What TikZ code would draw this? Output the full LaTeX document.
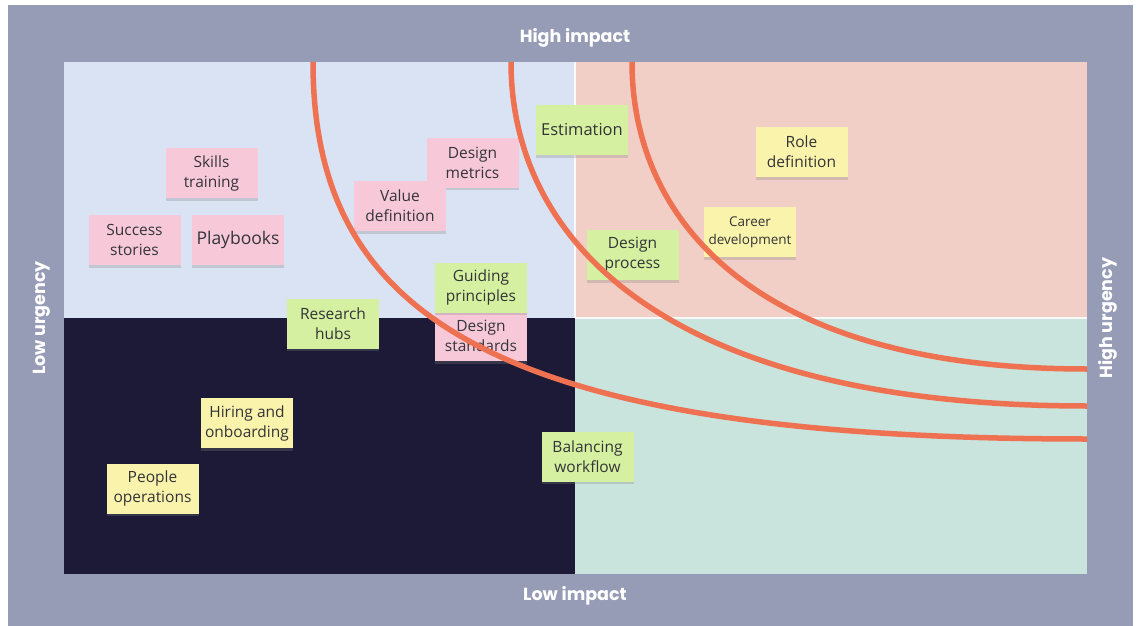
\documentclass[tikz,border=0pt]{standalone}
\usepackage{fontspec}
\setmainfont{Open Sans}
\newfontfamily\axisfont{Poppins}
\usetikzlibrary{shadows}

\definecolor{framegray}{RGB}{151,156,182}
\definecolor{quadtl}{RGB}{217,227,244}
\definecolor{quadtr}{RGB}{242,207,198}
\definecolor{quadbl}{RGB}{28,26,54}
\definecolor{quadbr}{RGB}{201,227,221}
\definecolor{notepink}{RGB}{247,201,216}
\definecolor{notegreen}{RGB}{212,240,160}
\definecolor{noteyellow}{RGB}{250,243,172}
\definecolor{notetext}{RGB}{52,52,56}
\definecolor{bandline}{RGB}{238,114,82}

\tikzset{
  note/.style={minimum width=92pt, minimum height=50pt, inner sep=1pt,
    align=center, text=notetext, font=\fontsize{15.5}{20}\selectfont,
    drop shadow={shadow xshift=0pt, shadow yshift=-2.5pt, opacity=0.28}},
  pinknote/.style={note, fill=notepink},
  greennote/.style={note, fill=notegreen},
  yellownote/.style={note, fill=noteyellow},
  band/.style={draw=bandline, line width=5.5pt},
  axislabel/.style={text=white, font=\axisfont\bfseries\fontsize{17.5}{20}\selectfont, inner sep=0pt}
}

\begin{document}
\begin{tikzpicture}[x=1pt, y=-1pt]
\useasboundingbox (0,0) rectangle (1141,626);
% page and frame
\fill[white] (0,0) rectangle (1141,626);
\fill[framegray] (8,5) rectangle (1133,626);

% four quadrants
\fill[quadtl] (64,62) rectangle (575,318);
\fill[quadtr] (575,62) rectangle (1087,318);
\fill[quadbl] (64,318) rectangle (575,574);
\fill[quadbr] (575,318) rectangle (1087,574);
\draw[white, line width=1.2pt, opacity=0.85] (575,62) -- (575,318);
\draw[white, line width=1.2pt, opacity=0.85] (575,318) -- (1087,318);

% sticky notes
\node[pinknote] (skills) at (211.5,173) {Skills\\training};
\node[pinknote] (success) at (134.5,240) {Success\\stories};
\node[pinknote, font=\fontsize{17.5}{20}\selectfont] (playbooks) at (238,240) {Playbooks};
\node[pinknote] (metrics) at (472.5,162.5) {Design\\metrics};
\node[pinknote] (value) at (400,206) {Value\\definition};
\node[greennote, font=\fontsize{16.5}{20}\selectfont] (estimation) at (582,130) {Estimation};
\node[yellownote] (role) at (801.5,152) {Role\\definition};
\node[yellownote, font=\fontsize{13.5}{18}\selectfont] (career) at (750,232) {Career\\development};
\node[greennote] (process) at (632.5,255) {Design\\process};
\node[pinknote] (standards) at (481,336) {Design\\standards};
\node[greennote] (guiding) at (481,287.5) {Guiding\\principles};
\node[greennote] (research) at (333,323.5) {Research\\hubs};
\node[yellownote] (hiring) at (247,423) {Hiring and\\onboarding};
\node[yellownote] (people) at (152.5,488.5) {People\\operations};
\node[greennote] (balancing) at (587.5,456.5) {Balancing\\workflow};

% priority bands
\draw[band] (313,62) .. controls (313,312) and (487,439) .. (1087,439);
\draw[band] (511,62) .. controls (511,242) and (667,406) .. (1087,406);
\draw[band] (632,62) .. controls (632,222) and (757,369) .. (1087,369);

% axis labels
\node[axislabel] (highimpact) at (575,38) {High impact};
\node[axislabel] (lowimpact) at (575,596) {Low impact};
\node[axislabel, rotate=90] (lowurgency) at (42,318) {Low urgency};
\node[axislabel, rotate=90] (highurgency) at (1108,318) {High urgency};
\end{tikzpicture}
\end{document}
